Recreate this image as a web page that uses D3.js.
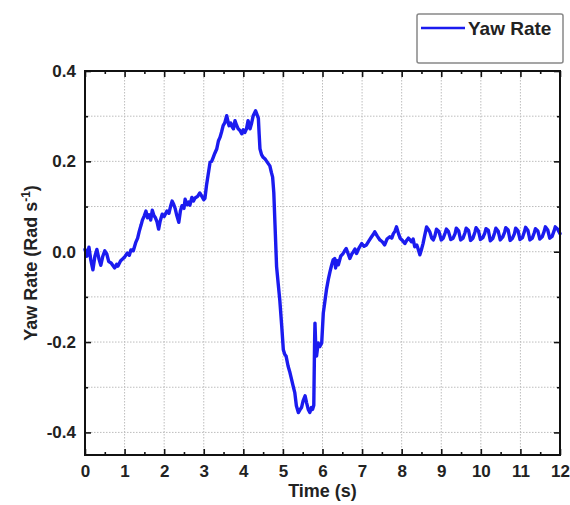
<!DOCTYPE html>
<html>
<head>
<meta charset="utf-8">
<script src="https://cdn.jsdelivr.net/npm/d3@7"></script>
<style>
  html, body { margin: 0; padding: 0; background: #fff; }
  svg text { font-family: "Liberation Sans", Arial, sans-serif; font-weight: bold; fill: #222; }
</style>
</head>
<body>
<svg id="chart" width="570" height="505"></svg>
<script>
// ---- data ----
const time = [
  0.00,0.05,0.10,0.15,0.20,0.25,0.30,0.35,0.40,0.45,0.50,0.55,0.60,0.66,0.70,0.75,0.80,0.83,0.90,0.95,
  1.00,1.07,1.12,1.16,1.22,1.28,1.33,1.37,1.42,1.45,1.50,1.54,1.58,1.62,1.66,1.70,1.74,1.78,1.82,1.86,
  1.90,1.95,2.00,2.07,2.12,2.16,2.20,2.24,2.28,2.32,2.37,2.41,2.45,2.50,2.53,2.58,2.62,2.65,2.70,2.74,
  2.78,2.84,2.90,2.95,3.00,3.03,3.07,3.11,3.16,3.20,3.24,3.28,3.33,3.37,3.41,3.45,3.49,3.53,3.58,3.62,
  3.64,3.68,3.72,3.75,3.79,3.83,3.87,3.92,3.96,4.00,4.04,4.08,4.12,4.17,4.21,4.25,4.31,4.36,4.38,4.40,
  4.42,4.46,4.50,4.55,4.59,4.63,4.67,4.71,4.74,4.77,4.80,4.84,4.88,4.92,4.97,5.01,5.05,5.08,5.13,5.17,
  5.22,5.26,5.30,5.34,5.39,5.43,5.47,5.51,5.56,5.60,5.64,5.68,5.72,5.75,5.78,5.80,5.81,5.83,5.85,5.89,
  5.93,5.98,6.02,6.06,6.10,6.15,6.19,6.23,6.27,6.31,6.33,6.37,6.40,6.46,6.52,6.56,6.60,6.65,6.69,6.74,
  6.78,6.82,6.86,6.92,6.99,7.05,7.11,7.18,7.24,7.28,7.32,7.38,7.45,7.51,7.57,7.63,7.70,7.75,7.79,7.83,
  7.87,7.92,7.96,8.02,8.08,8.12,8.17,8.21,8.25,8.29,8.33,8.38,8.42,8.46,8.50,8.54,8.58,8.63,8.67,8.71,
  8.76,8.80,8.84,8.88,8.94,9.00,9.05,9.10,9.13,9.18,9.24,9.30,9.35,9.38,9.44,9.49,9.55,9.60,
  9.63,9.69,9.74,9.80,9.85,9.88,9.94,9.99,10.05,10.10,10.13,10.19,10.24,10.30,10.35,10.38,10.44,10.49,
  10.55,10.60,10.63,10.69,10.74,10.80,10.85,10.88,10.94,10.99,11.05,11.10,11.13,11.19,11.24,11.30,11.35,
  11.38,11.44,11.49,11.55,11.60,11.63,11.69,11.74,11.80,11.85,11.88,11.94,12.00
];
const yawRate = [
  0.005,-0.010,0.010,-0.020,-0.040,-0.010,0.005,-0.015,-0.030,-0.010,0.002,-0.005,-0.022,-0.025,-0.030,-0.036,-0.028,-0.032,-0.020,-0.016,
  -0.012,-0.003,-0.008,0.004,0.002,0.020,0.030,0.045,0.060,0.070,0.080,0.090,0.075,0.082,0.070,0.092,0.080,0.075,0.066,0.050,
  0.068,0.083,0.078,0.090,0.085,0.100,0.112,0.105,0.095,0.080,0.065,0.090,0.102,0.096,0.116,0.104,0.110,0.103,0.120,0.112,
  0.119,0.122,0.130,0.123,0.115,0.118,0.147,0.170,0.198,0.200,0.209,0.218,0.228,0.245,0.253,0.265,0.279,0.285,0.301,0.285,
  0.279,0.285,0.276,0.272,0.290,0.280,0.272,0.268,0.261,0.270,0.264,0.272,0.290,0.272,0.285,0.301,0.312,0.300,0.295,0.260,
  0.228,0.215,0.209,0.205,0.200,0.195,0.190,0.175,0.165,0.130,0.060,-0.033,-0.070,-0.106,-0.165,-0.217,-0.228,-0.231,-0.253,-0.265,
  -0.283,-0.298,-0.312,-0.341,-0.356,-0.350,-0.345,-0.330,-0.319,-0.335,-0.349,-0.356,-0.345,-0.349,-0.340,-0.200,-0.158,-0.210,-0.231,-0.202,
  -0.210,-0.202,-0.136,-0.110,-0.084,-0.060,-0.044,-0.030,-0.018,-0.015,-0.036,-0.020,-0.029,-0.010,-0.004,0.002,0.007,-0.005,-0.015,-0.005,
  0.000,0.006,-0.004,0.008,0.018,0.012,0.015,0.025,0.033,0.038,0.044,0.035,0.026,0.022,0.015,0.028,0.033,0.030,0.040,0.045,
  0.055,0.040,0.030,0.025,0.018,0.024,0.030,0.026,0.022,0.028,0.011,0.015,0.005,-0.007,0.005,0.018,0.035,0.055,0.050,0.044,
  0.030,0.026,0.035,0.050,0.045,0.026,0.030,0.042,0.050,0.045,0.027,0.030,0.040,0.052,0.046,0.026,0.030,0.042,
  0.052,0.047,0.025,0.030,0.043,0.053,0.046,0.027,0.031,0.041,0.051,0.047,0.024,0.029,0.042,0.052,0.045,0.026,
  0.032,0.043,0.053,0.048,0.025,0.030,0.040,0.052,0.046,0.027,0.031,0.044,0.054,0.047,0.026,0.030,0.042,
  0.051,0.046,0.028,0.033,0.045,0.055,0.048,0.030,0.034,0.046,0.055,0.050,0.040
];
const xTicks = [0,1,2,3,4,5,6,7,8,9,10,11,12];
const yTicks = [-0.4,-0.2,0.0,0.2,0.4];
const seriesName = "Yaw Rate";

// ---- layout ----
const svg = d3.select("#chart");
const L = 85, R = 560, T = 71, B = 455;
const x = d3.scaleLinear().domain([0, 12]).range([L, R]);
const y = d3.scaleLinear().domain([-0.45, 0.4]).range([B, T]);
const lineColor = "#1b1bef";

// grid
const gx = d3.range(1, 12);
const gy = d3.range(-4, 4).map(d => d / 10);
svg.append("g").selectAll("line").data(gx).join("line")
  .attr("x1", d => x(d)).attr("x2", d => x(d)).attr("y1", T).attr("y2", B)
  .attr("stroke", "#bdbdbd").attr("stroke-width", 1).attr("stroke-dasharray", "1.5,1.5");
svg.append("g").selectAll("line").data(gy).join("line")
  .attr("y1", d => y(d)).attr("y2", d => y(d)).attr("x1", L).attr("x2", R)
  .attr("stroke", "#bdbdbd").attr("stroke-width", 1).attr("stroke-dasharray", "1.5,1.5");

// axes with inward ticks
const xMinor = d3.range(0.5, 12, 1);
const yMinor = [-0.3, -0.1, 0.1, 0.3];
function styleAxis(g) {
  g.select(".domain").remove();
  g.selectAll(".tick line").attr("stroke", "#111").attr("stroke-width", 1.6);
  g.selectAll(".tick text").attr("font-size", 17).attr("fill", "#222");
}
svg.append("g").attr("transform", `translate(0,${B})`)
  .call(d3.axisBottom(x).tickValues(xTicks).tickFormat(d3.format("d")).tickSizeInner(-6).tickPadding(10))
  .call(styleAxis);
svg.append("g").attr("transform", `translate(0,${B})`)
  .call(d3.axisBottom(x).tickValues(xMinor).tickFormat("").tickSizeInner(-3))
  .call(styleAxis);
svg.append("g").attr("transform", `translate(0,${T})`)
  .call(d3.axisTop(x).tickValues(xTicks).tickFormat("").tickSizeInner(-6))
  .call(styleAxis);
svg.append("g").attr("transform", `translate(0,${T})`)
  .call(d3.axisTop(x).tickValues(xMinor).tickFormat("").tickSizeInner(-3))
  .call(styleAxis);
svg.append("g").attr("transform", `translate(${L},0)`)
  .call(d3.axisLeft(y).tickValues(yTicks).tickFormat(d => d.toFixed(1)).tickSizeInner(-6).tickPadding(9))
  .call(styleAxis);
svg.append("g").attr("transform", `translate(${L},0)`)
  .call(d3.axisLeft(y).tickValues(yMinor).tickFormat("").tickSizeInner(-3))
  .call(styleAxis);
svg.append("g").attr("transform", `translate(${R},0)`)
  .call(d3.axisRight(y).tickValues(yTicks).tickFormat("").tickSizeInner(-6))
  .call(styleAxis);
svg.append("g").attr("transform", `translate(${R},0)`)
  .call(d3.axisRight(y).tickValues(yMinor).tickFormat("").tickSizeInner(-3))
  .call(styleAxis);

// line
const pts = time.map((t, i) => [t, yawRate[i]]);
svg.append("path").datum(pts)
  .attr("d", d3.line().x(d => x(d[0])).y(d => y(d[1])))
  .attr("fill", "none").attr("stroke", lineColor).attr("stroke-width", 3.4)
  .attr("stroke-linejoin", "round").attr("stroke-linecap", "round");

// frame
svg.append("rect").attr("x", L).attr("y", T).attr("width", R - L).attr("height", B - T)
  .attr("fill", "none").attr("stroke", "#111").attr("stroke-width", 2);

// axis titles
svg.append("text").attr("x", (L + R) / 2).attr("y", 497).attr("text-anchor", "middle")
  .attr("font-size", 18).text("Time (s)");
const yt = svg.append("text").attr("transform", `translate(37,${(T + B) / 2}) rotate(-90)`)
  .attr("text-anchor", "middle").attr("font-size", 18);
yt.append("tspan").text("Yaw Rate (Rad s");
yt.append("tspan").attr("dy", -7).attr("font-size", 12).text("-1");
yt.append("tspan").attr("dy", 7).text(")");

// legend
svg.append("rect").attr("x", 417).attr("y", 14).attr("width", 146).attr("height", 49)
  .attr("rx", 2).attr("fill", "#fff").attr("stroke", "#888").attr("stroke-width", 1.5);
svg.append("line").attr("x1", 421).attr("x2", 465).attr("y1", 28).attr("y2", 28)
  .attr("stroke", lineColor).attr("stroke-width", 2.5);
svg.append("text").attr("x", 468).attr("y", 35).attr("font-size", 19).text(seriesName);
</script>
</body>
</html>
